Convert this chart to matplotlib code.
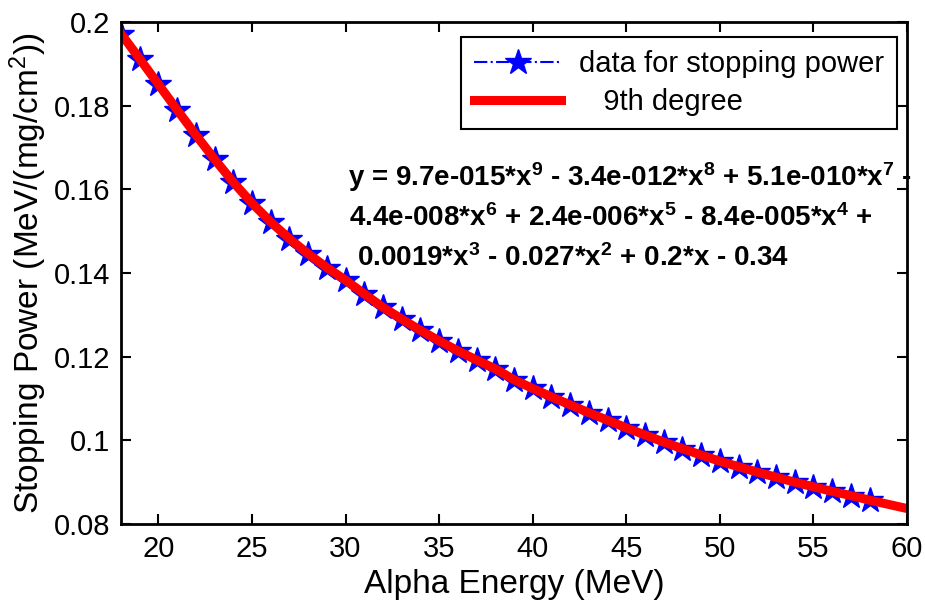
import numpy as np
import matplotlib
matplotlib.use("Agg")
import matplotlib.pyplot as plt

plt.rcParams["font.family"] = ["Liberation Sans", "DejaVu Sans"]
plt.rcParams["mathtext.default"] = "regular"

# alpha energy (MeV) and stopping power
energy = list(range(18, 59))
stopping = [0.1972, 0.1912, 0.1851, 0.1790, 0.1730, 0.1672, 0.1617, 0.1567,
            0.1522, 0.1482, 0.1446, 0.1413, 0.1383, 0.1350, 0.1318, 0.1290,
            0.1263, 0.1238, 0.1214, 0.1192, 0.1171, 0.1145, 0.1124, 0.1104,
            0.1085, 0.1066, 0.1048, 0.1030, 0.1013, 0.0996, 0.0980, 0.0965,
            0.0950, 0.0937, 0.0924, 0.0912, 0.0900, 0.0889, 0.0878, 0.0868,
            0.0857]

# 9th degree fit curve, 18..60 MeV
fit_energy = list(range(18, 61))
fit_stopping = stopping + [0.0847, 0.0837]

xticks = [20, 25, 30, 35, 40, 45, 50, 55, 60]
yticks = [0.08, 0.1, 0.12, 0.14, 0.16, 0.18, 0.2]
ytick_labels = ["0.08", "0.1", "0.12", "0.14", "0.16", "0.18", "0.2"]

eq_lines = [
    "y = 9.7e-015*x$^{9}$ - 3.4e-012*x$^{8}$ + 5.1e-010*x$^{7}$ -",
    "4.4e-008*x$^{6}$ + 2.4e-006*x$^{5}$ - 8.4e-005*x$^{4}$ +",
    "0.0019*x$^{3}$ - 0.027*x$^{2}$ + 0.2*x - 0.34",
]

fig = plt.figure(figsize=(9.25, 6.05), dpi=100)
ax = fig.add_axes([0.1308, 0.1339, 0.8497, 0.8297])

ax.plot(energy, stopping, linestyle="-.", color="blue", linewidth=1.5,
        marker="*", markersize=19, markerfacecolor="blue",
        markeredgecolor="blue", label="data for stopping power")
ax.plot(fit_energy, fit_stopping, color="red", linewidth=6.5,
        label="   9th degree")

ax.set_xlim(18, 60)
ax.set_ylim(0.08, 0.2)
ax.set_xticks(xticks)
ax.set_yticks(yticks)
ax.set_yticklabels(ytick_labels)
ax.tick_params(direction="in", length=7, width=1.5, labelsize=21,
               top=True, right=True, pad=8)
for s in ax.spines.values():
    s.set_linewidth(2)

ax.set_xlabel("Alpha Energy (MeV)", fontsize=24, labelpad=4)
ax.set_ylabel("Stopping Power (MeV/(mg/cm$^{2}$))", fontsize=24, labelpad=3)

eq_pos = [(30.13, 0.163), (30.2, 0.1531), (30.6, 0.1436)]
for (xp, yp), line in zip(eq_pos, eq_lines):
    ax.text(xp, yp, line, fontsize=20, fontweight="bold",
            ha="left", va="center")

leg = ax.legend(loc="upper right", fontsize=21, numpoints=1,
                bbox_to_anchor=(897 / 925, 1 - 37 / 605),
                bbox_transform=fig.transFigure, borderaxespad=0,
                handlelength=3.0, handletextpad=0.6, borderpad=0.45,
                labelspacing=0.35, fancybox=False, framealpha=1,
                edgecolor="black")
leg.get_frame().set_linewidth(1.5)

fig.savefig("out.png", dpi=100)
